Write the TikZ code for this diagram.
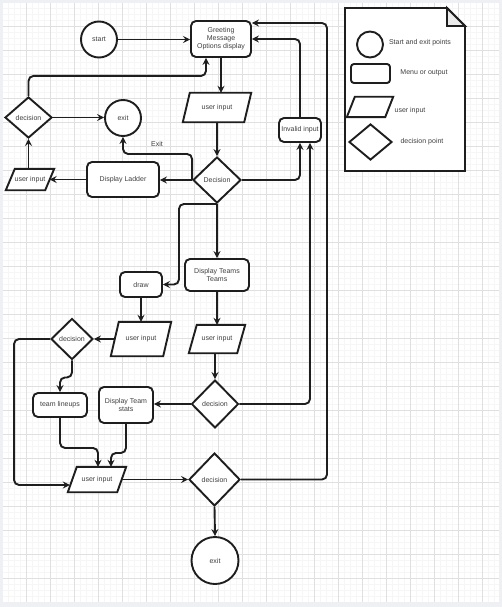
\documentclass[tikz,border=0pt]{standalone}
\usepackage{fontspec}
\setmainfont{Liberation Sans}
\usetikzlibrary{arrows.meta,shapes.geometric}

\definecolor{ink}{HTML}{1E1E1E}
\definecolor{label}{HTML}{404040}
\definecolor{gridmajor}{HTML}{E0E0E0}
\definecolor{gridminor}{HTML}{F6F6F6}
\definecolor{canvasedge}{HTML}{EEF0F3}
\definecolor{foldgray}{HTML}{EBEBEB}

\tikzset{
  outline/.style={draw=ink, line width=1.9pt, fill=white},
  txt/.style={font=\fontsize{7}{8}\selectfont, text=label, align=center, inner sep=0pt},
  menubox/.style={outline, txt, rectangle, rounded corners=5pt},
  endpoint/.style={outline, txt, circle},
  choice/.style={outline, txt, diamond},
  pgslot/.style={rectangle, inner sep=0pt},
  flow/.style={draw=ink, line width=1.9pt, rounded corners=5pt,
    -{Stealth[length=7pt,width=7pt,inset=2.5pt]}},
}

% parallelogram input box: name, centre, width, height, slant, text
\newcommand\pgram[6]{%
  \node[pgslot, minimum width=#3pt, minimum height=#4pt] (#1) at (#2) {};
  \draw[outline, line join=miter] ([xshift=#5pt]#1.north west) -- (#1.north east)
    -- ([xshift=-#5pt]#1.south east) -- (#1.south west) -- cycle;
  \node[txt] (#1-text) at (#1) {#6};
}

\begin{document}
\begin{tikzpicture}[x=1pt, y=-1pt]
\useasboundingbox (0,0) rectangle (502,607);

% canvas and grid
\fill[canvasedge] (0,0) rectangle (502,607);
\fill[white] (3,3) rectangle (499,602);
\foreach \g in {8,14,...,494} \draw[gridminor, line width=0.6pt] (\g,3) -- (\g,602);
\foreach \g in {8,14,...,596} \draw[gridminor, line width=0.6pt] (3,\g) -- (499,\g);
\foreach \g in {26,50,...,482} \draw[gridmajor, line width=0.7pt] (\g,3) -- (\g,602);
\foreach \g in {26,50,...,578} \draw[gridmajor, line width=0.7pt] (3,\g) -- (499,\g);

% legend sheet
\draw[outline, line join=miter] (345,8) -- (447,8) -- (465,26) -- (465,171) -- (345,171) -- cycle;
\draw[outline, fill=foldgray, line join=miter] (447,8) -- (447,26) -- (465,26) -- cycle;
\node[endpoint, minimum size=26pt] (keyend) at (370,44.5) {};
\node[txt] (keyendtext) at (420,43) {Start and exit points};
\node[menubox, minimum width=39pt, minimum height=19pt, rounded corners=3pt] (keymenu) at (370.5,73.5) {};
\node[txt] (keymenutext) at (424,73) {Menu or output};
\pgram{keyinput}{370,107}{46}{20}{8}{}
\node[txt] (keyinputtext) at (410,111) {user input};
\node[choice, minimum width=43pt, minimum height=36pt] (keychoice) at (370.5,142) {};
\node[txt] (keychoicetext) at (422,142) {decision point};

% flowchart nodes
\node[endpoint, minimum size=36pt] (start) at (99,39.5) {start};
\node[menubox, minimum width=60pt, minimum height=36pt] (greet) at (221,39) {Greeting\\Message\\Options display};
\pgram{ui1}{217,107.5}{68}{29}{7}{user input}
\node[choice, minimum width=48pt, minimum height=46pt] (dec1) at (217,180) {Decision};
\node[menubox, minimum width=72pt, minimum height=35pt] (ladder) at (123,179.5) {Display Ladder};
\pgram{ui2}{30,179.5}{48}{21}{9}{user input}
\node[choice, minimum width=47pt, minimum height=41pt] (dec2) at (28.5,117.5) {decision};
\node[endpoint, minimum size=36pt] (exit1) at (123,118) {exit};
\node[txt] (exitlabel) at (157,144) {Exit};
\node[menubox, minimum width=42pt, minimum height=24pt] (inval) at (300,130) {Invalid input};
\node[menubox, minimum width=64pt, minimum height=32pt] (teams) at (217,275) {Display Teams\\Teams};
\node[menubox, minimum width=42pt, minimum height=25pt] (drawbox) at (141,284.5) {draw};
\pgram{ui3}{141,339}{60}{34}{8}{user input}
\pgram{ui4}{217,339}{56}{28}{8}{user input}
\node[choice, minimum width=42pt, minimum height=41pt] (dec5) at (72,339) {decision};
\node[menubox, minimum width=54pt, minimum height=24pt] (lineups) at (60,405) {team lineups};
\node[menubox, minimum width=54pt, minimum height=36pt] (stats) at (126,405) {Display Team\\stats};
\node[choice, minimum width=47pt, minimum height=48pt] (dec3) at (215,404) {decision};
\pgram{ui5}{97,479.5}{58}{25}{9}{user input}
\node[choice, minimum width=51pt, minimum height=53pt] (dec4) at (214.5,479.5) {decision};
\node[endpoint, minimum size=47pt] (exit2) at (215,560.5) {exit};
\coordinate (topreturn) at (327,23);

% connectors
\draw[flow] (start.east) -- (start.east -| greet.west);
\draw[flow] (greet.south) -- (greet.south |- ui1.north);
\draw[flow] (ui1.south) -- (dec1.north);
\draw[flow] (dec1.west) -- (dec1.west -| ladder.east);
\draw[flow] (ladder.west) -- ([xshift=-4.5pt]ui2.east);
\draw[flow] (dec2.south |- ui2.north) -- (dec2.south);
\draw[flow] (dec2.east) -- (dec2.east -| exit1.west);
\draw[flow] (dec2.north) |- ([xshift=-15pt,yshift=-18pt]greet.south) -- ([xshift=-15pt]greet.south);
\draw[flow] (dec1.west) |- ([yshift=-17pt]exit1.south) -- (exit1.south);
\draw[flow] (dec1.east) -| (inval.south);
\draw[flow] (inval.north) |- (greet.east);
\draw[flow] (dec3.east) -| ([xshift=10pt]inval.south);
\draw[flow] (dec4.east) -| (topreturn) -- (greet.east |- topreturn);
\draw[flow] (dec1.south) -- (teams.north);
\draw[flow] (dec1.south) -| ([xshift=16pt]drawbox.east) -- (drawbox.east);
\draw[flow] (drawbox.south) -- (ui3.north);
\draw[flow] ([xshift=3.5pt]ui3.west) -- (dec5.east);
\draw[flow] (dec5.south) -- ++(0,17) -| (lineups.north);
\draw[flow] (dec5.west) -- ++(-36,0) |- ([xshift=2pt,yshift=-5.5pt]ui5.west);
\draw[flow] (lineups.south) -- ++(0,30) -| ([xshift=1pt]ui5.north);
\draw[flow] (stats.south) -- ++(0,29) -| ([xshift=14pt]ui5.north);
\draw[flow] (dec3.west) -- (dec3.west -| stats.east);
\draw[flow] (teams.south) -- (ui4.north);
\draw[flow] (dec3.north |- ui4.south) -- (dec3.north);
\draw[flow] ([xshift=-4.5pt]ui5.east) -- (dec4.west);
\draw[flow] (dec4.south) -- (exit2.north);
\end{tikzpicture}
\end{document}
